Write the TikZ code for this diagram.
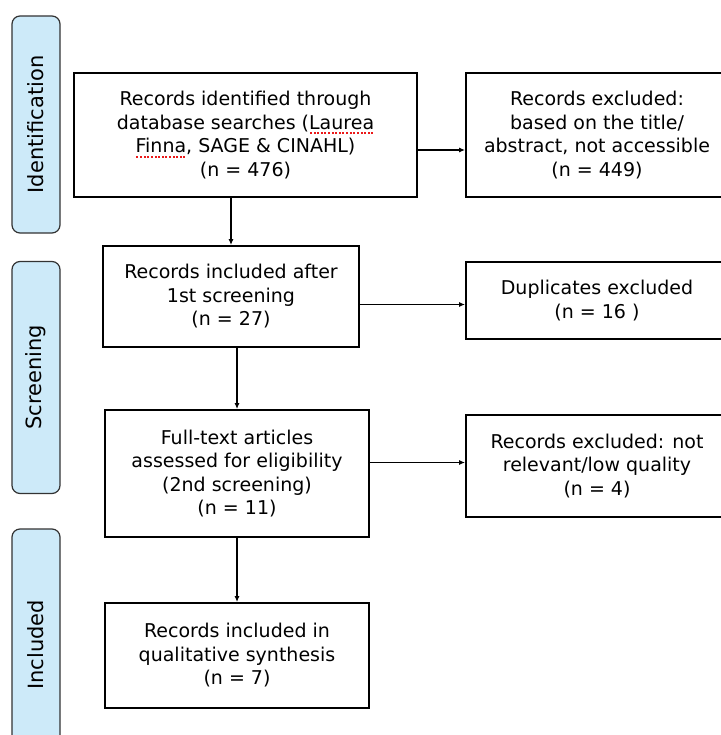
\documentclass[tikz,border=0pt]{standalone}
\usepackage{fontspec}
\setmainfont{DejaVu Sans}
\usepackage{xcolor}
\usetikzlibrary{arrows.meta, positioning}
\definecolor{sidefill}{RGB}{205,234,249}
\definecolor{spellred}{RGB}{235,25,25}
% red dotted spell-check line under a word
\newcommand{\spellmark}[1]{\setbox0=\hbox{#1}\rlap{\color{spellred}\hbox to \wd0{\xleaders\hbox to 3.6pt{\hss\rule[-5pt]{2pt}{2pt}\hss}\hfill}}\box0}

\begin{document}
\begin{tikzpicture}[x=1pt, y=-1pt,
    box/.style={draw, line width=1.8pt, align=center, inner sep=0pt, font=\fontsize{19}{23.5}\selectfont},
    side/.style={draw=black!80, line width=1.2pt, fill=sidefill, rounded corners=8pt, rotate=90, minimum height=48pt, font=\fontsize{21}{25}\selectfont},
    arr/.style={-{Latex[length=6pt,width=5pt]}, line width=1.4pt}]
    \useasboundingbox (0,0) rectangle (720,735);

    % Phase labels
    \node[side, minimum width=217pt] (ident) at (36,124.5) {Identification};
    \node[side, minimum width=232pt] (screen) at (36,377.5) {Screening};
    \node[side, minimum width=232pt] (incl) at (36,645) {Included};

    % Main flow
    \node[box, minimum width=343pt, minimum height=124pt] (found) at (245.5,135)
        {Records identified through\\database searches (\spellmark{Laurea}\\\spellmark{Finna}, SAGE \& CINAHL)\\(n = 476)};
    \node[box, minimum width=256pt, minimum height=101pt] (first) at (231,296.5)
        {Records included after\\1st screening\\(n = 27)};
    \node[box, minimum width=264pt, minimum height=127pt] (full) at (237,473.5)
        {Full-text articles\\assessed for eligibility\\(2nd screening)\\(n = 11)};
    \node[box, minimum width=264pt, minimum height=105pt] (synth) at (237,655.5)
        {Records included in\\qualitative synthesis\\(n = 7)};

    % Exclusions
    \node[box, minimum width=262pt, minimum height=124pt] (excl) at (597,135)
        {Records excluded:\\based on the title/\\abstract, not accessible\\(n = 449)};
    \node[box, minimum width=262pt, minimum height=77pt] (dup) at (597,300.5)
        {Duplicates excluded\\(n = 16 )};
    \node[box, minimum width=262pt, minimum height=102pt] (notrel) at (597,466)
        {Records excluded: not\\relevant/low quality\\(n = 4)};

    % Arrows
    \draw[arr] (found.south -| first.north) -- (first.north);
    \draw[arr] (first.south -| full.north) -- (full.north);
    \draw[arr] (full.south) -- (synth.north);
    \draw[arr] ([yshift=-15pt]found.east) -- ([yshift=-15pt]excl.west);
    \draw[arr] ([yshift=-8pt]first.east) -- ([yshift=-8pt]first.east -| dup.west);
    \draw[arr] ([yshift=11pt]full.east) -- ([yshift=11pt]full.east -| notrel.west);
\end{tikzpicture}
\end{document}
